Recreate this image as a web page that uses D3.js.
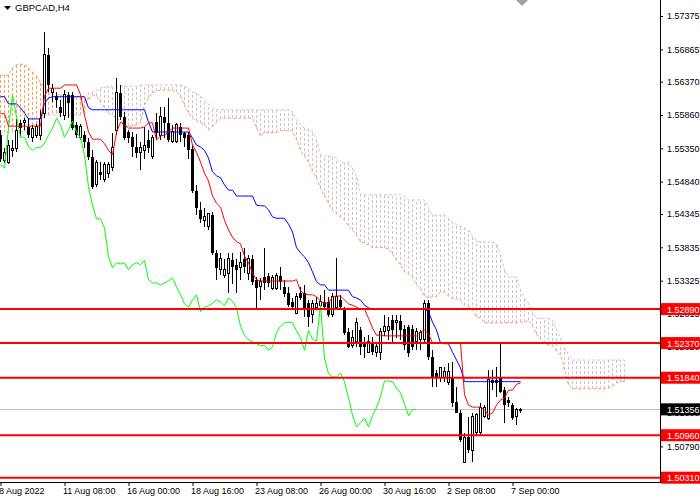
<!DOCTYPE html>
<html>
<head>
<meta charset="utf-8">
<script src="https://cdnjs.cloudflare.com/ajax/libs/d3/7.8.5/d3.min.js"></script>
<style>
body { margin: 0; background: #fff; }
svg { display: block; font-family: "Liberation Sans", Arial, sans-serif; }
</style>
</head>
<body>
<svg width="700" height="500"></svg>
<script>
// GBPCAD H4 candles, 8 Aug - 7 Sep 2022 (one value per 4h bar)
var opens = [1.5555,1.5517,1.5514,1.5532,1.5534,1.5574,1.5575,1.5568,1.5551,1.5555,
 1.5555,1.5589,1.5678,1.5621,1.5615,1.5598,1.5586,1.5617,1.5617,1.5571,
 1.5552,1.5555,1.5545,1.5522,1.5479,1.5499,1.5487,1.5497,1.5505,1.5563,
 1.5620,1.5583,1.5560,1.5552,1.5537,1.5529,1.5532,1.5548,1.5523,1.5575,
 1.5555,1.5583,1.5574,1.5545,1.5545,1.5568,1.5559,1.5555,1.5534,1.5470,
 1.5441,1.5424,1.5415,1.5433,1.5375,1.5350,1.5340,1.5344,1.5364,1.5357,
 1.5353,1.5366,1.5344,1.5366,1.5334,1.5323,1.5338,1.5340,1.5321,1.5321,
 1.5340,1.5323,1.5314,1.5300,1.5283,1.5314,1.5314,1.5298,1.5280,1.5292,
 1.5294,1.5300,1.5300,1.5280,1.5292,1.5303,1.5288,1.5254,1.5234,1.5239,
 1.5257,1.5239,1.5223,1.5237,1.5223,1.5223,1.5254,1.5257,1.5272,1.5268,
 1.5271,1.5259,1.5262,1.5259,1.5240,1.5243,1.5242,1.5298,1.5216,1.5191,
 1.5185,1.5184,1.5176,1.5184,1.5147,1.5130,1.5055,1.5093,1.5073,1.5100,
 1.5100,1.5124,1.5122,1.5181,1.5181,1.5184,1.5165,1.5150,1.5142,1.5124,
 1.5135];

var highs = [1.5563,1.5536,1.5548,1.5548,1.5580,1.5578,1.5581,1.5581,1.5571,1.5572,
 1.5594,1.5713,1.5689,1.5633,1.5621,1.5609,1.5624,1.5621,1.5621,1.5575,
 1.5572,1.5562,1.5551,1.5532,1.5517,1.5514,1.5514,1.5514,1.5559,1.5643,
 1.5632,1.5591,1.5563,1.5560,1.5557,1.5545,1.5568,1.5563,1.5555,1.5589,
 1.5598,1.5598,1.5612,1.5571,1.5574,1.5574,1.5560,1.5560,1.5540,1.5479,
 1.5453,1.5444,1.5435,1.5438,1.5379,1.5375,1.5366,1.5375,1.5375,1.5366,
 1.5376,1.5383,1.5372,1.5372,1.5338,1.5337,1.5383,1.5344,1.5341,1.5344,
 1.5353,1.5334,1.5323,1.5306,1.5314,1.5323,1.5326,1.5303,1.5303,1.5308,
 1.5311,1.5318,1.5308,1.5314,1.5367,1.5311,1.5292,1.5260,1.5257,1.5275,
 1.5262,1.5246,1.5249,1.5246,1.5239,1.5260,1.5280,1.5277,1.5280,1.5280,
 1.5280,1.5265,1.5265,1.5265,1.5260,1.5257,1.5303,1.5303,1.5226,1.5196,
 1.5200,1.5200,1.5207,1.5208,1.5170,1.5135,1.5100,1.5124,1.5130,1.5130,
 1.5145,1.5142,1.5196,1.5196,1.5200,1.5236,1.5170,1.5155,1.5145,1.5138,
 1.5138];

var lows = [1.5514,1.5513,1.5511,1.5522,1.5529,1.5552,1.5563,1.5551,1.5545,1.5551,
 1.5548,1.5581,1.5621,1.5606,1.5597,1.5583,1.5578,1.5581,1.5563,1.5551,
 1.5548,1.5536,1.5517,1.5473,1.5476,1.5487,1.5484,1.5490,1.5500,1.5555,
 1.5578,1.5548,1.5543,1.5522,1.5520,1.5502,1.5519,1.5528,1.5519,1.5548,
 1.5548,1.5551,1.5545,1.5543,1.5543,1.5545,1.5537,1.5519,1.5467,1.5433,
 1.5421,1.5415,1.5410,1.5372,1.5334,1.5341,1.5337,1.5314,1.5327,1.5314,
 1.5334,1.5344,1.5334,1.5326,1.5288,1.5303,1.5318,1.5323,1.5318,1.5318,
 1.5318,1.5308,1.5292,1.5288,1.5283,1.5303,1.5277,1.5262,1.5268,1.5288,
 1.5291,1.5288,1.5277,1.5277,1.5288,1.5288,1.5249,1.5230,1.5230,1.5231,
 1.5219,1.5214,1.5222,1.5219,1.5216,1.5211,1.5248,1.5242,1.5237,1.5245,
 1.5242,1.5226,1.5216,1.5226,1.5226,1.5226,1.5239,1.5211,1.5170,1.5170,
 1.5178,1.5178,1.5173,1.5139,1.5130,1.5086,1.5055,1.5069,1.5055,1.5096,
 1.5096,1.5122,1.5119,1.5165,1.5155,1.5161,1.5115,1.5139,1.5119,1.5112,
 1.5130];

var closes = [1.5519,1.5529,1.5540,1.5534,1.5563,1.5566,1.5577,1.5555,1.5566,1.5569,
 1.5581,1.5678,1.5632,1.5627,1.5609,1.5589,1.5618,1.5604,1.5566,1.5555,
 1.5568,1.5545,1.5522,1.5476,1.5513,1.5494,1.5510,1.5510,1.5537,1.5620,
 1.5583,1.5551,1.5551,1.5537,1.5528,1.5536,1.5539,1.5536,1.5552,1.5559,
 1.5583,1.5574,1.5548,1.5560,1.5571,1.5555,1.5551,1.5532,1.5470,1.5444,
 1.5427,1.5430,1.5435,1.5375,1.5352,1.5366,1.5350,1.5366,1.5353,1.5349,
 1.5360,1.5353,1.5366,1.5331,1.5321,1.5331,1.5329,1.5329,1.5337,1.5340,
 1.5331,1.5312,1.5295,1.5292,1.5308,1.5306,1.5288,1.5277,1.5298,1.5297,
 1.5300,1.5292,1.5280,1.5308,1.5308,1.5292,1.5253,1.5231,1.5245,1.5269,
 1.5231,1.5231,1.5239,1.5223,1.5231,1.5254,1.5263,1.5263,1.5257,1.5271,
 1.5257,1.5234,1.5222,1.5231,1.5254,1.5253,1.5298,1.5216,1.5185,1.5184,
 1.5199,1.5193,1.5193,1.5145,1.5130,1.5089,1.5093,1.5073,1.5124,1.5127,
 1.5139,1.5139,1.5181,1.5176,1.5176,1.5162,1.5142,1.5145,1.5122,1.5135,
 1.51356];

// Ichimoku lines
var tenkan = [1.5588,1.5588,1.5569,1.5569,1.5569,1.5569,1.5569,1.5569,1.5569,1.5569,
 1.5569,1.5615,1.5627,1.5627,1.5627,1.5627,1.5632,1.5632,1.5632,1.5632,
 1.5617,1.5586,1.5560,1.5549,1.5549,1.5549,1.5542,1.5532,1.5525,1.5559,
 1.5575,1.5571,1.5566,1.5566,1.5566,1.5566,1.5568,1.5574,1.5574,1.5548,
 1.5554,1.5555,1.5560,1.5566,1.5566,1.5566,1.5566,1.5566,1.5540,1.5529,
 1.5514,1.5497,1.5485,1.5462,1.5451,1.5445,1.5425,1.5410,1.5399,1.5392,
 1.5389,1.5370,1.5360,1.5344,1.5334,1.5332,1.5332,1.5332,1.5332,1.5332,
 1.5332,1.5332,1.5332,1.5332,1.5334,1.5317,1.5312,1.5311,1.5311,1.5308,
 1.5301,1.5298,1.5298,1.5308,1.5309,1.5309,1.5303,1.5297,1.5295,1.5292,
 1.5289,1.5289,1.5275,1.5260,1.5249,1.5249,1.5248,1.5248,1.5248,1.5248,
 1.5248,1.5248,1.5248,1.5248,1.5248,1.5254,1.5257,1.5251,1.5237,1.5237,
 1.5237,1.5237,1.5237,1.5237,1.5237,1.5237,1.5158,1.5142,1.5139,1.5139,
 1.5139,1.5135,1.5127,1.5130,1.5142,1.5150,1.5153,1.5165,1.5165,1.5174,
 1.5176];

var kijun = [1.5614,1.5614,1.5603,1.5603,1.5603,1.5597,1.5589,1.5580,1.5580,1.5580,
 1.5580,1.5604,1.5612,1.5614,1.5614,1.5614,1.5614,1.5614,1.5614,1.5614,
 1.5614,1.5614,1.5597,1.5594,1.5594,1.5594,1.5594,1.5594,1.5594,1.5594,
 1.5594,1.5594,1.5594,1.5594,1.5594,1.5594,1.5594,1.5575,1.5560,1.5560,
 1.5560,1.5560,1.5560,1.5560,1.5560,1.5560,1.5560,1.5560,1.5551,1.5540,
 1.5537,1.5532,1.5520,1.5499,1.5493,1.5490,1.5479,1.5471,1.5471,1.5462,
 1.5462,1.5462,1.5462,1.5462,1.5448,1.5447,1.5447,1.5441,1.5430,1.5428,
 1.5428,1.5428,1.5419,1.5407,1.5383,1.5375,1.5369,1.5360,1.5346,1.5331,
 1.5326,1.5326,1.5318,1.5318,1.5318,1.5318,1.5318,1.5318,1.5308,1.5306,
 1.5303,1.5295,1.5291,1.5289,1.5289,1.5289,1.5289,1.5289,1.5289,1.5289,
 1.5289,1.5289,1.5289,1.5289,1.5289,1.5289,1.5289,1.5285,1.5269,1.5257,
 1.5237,1.5236,1.5236,1.5223,1.5211,1.5199,1.5178,1.5178,1.5178,1.5178,
 1.5178,1.5178,1.5178,1.5178,1.5178,1.5178,1.5178,1.5178,1.5178,1.5178,
 1.5178];

var chikou = [1.5510,1.5505,1.5566,1.5617,1.5583,1.5552,1.5552,1.5537,1.5532,1.5536,
 1.5536,1.5543,1.5555,1.5566,1.5581,1.5571,1.5552,1.5563,1.5577,1.5560,
 1.5551,1.5525,1.5476,1.5448,1.5427,1.5427,1.5413,1.5369,1.5352,1.5360,
 1.5358,1.5360,1.5349,1.5357,1.5360,1.5357,1.5364,1.5334,1.5329,1.5329,
 1.5326,1.5329,1.5332,1.5337,1.5323,1.5311,1.5297,1.5292,1.5303,1.5311,
 1.5285,1.5292,1.5294,1.5298,1.5303,1.5300,1.5294,1.5306,1.5301,1.5291,
 1.5263,1.5249,1.5242,1.5239,1.5236,1.5233,1.5234,1.5226,1.5231,1.5253,
 1.5263,1.5268,1.5269,1.5268,1.5256,1.5245,1.5226,1.5256,1.5243,1.5240,
 1.5295,1.5214,1.5190,1.5185,1.5185,1.5191,1.5178,1.5153,1.5127,1.5109,
 1.5115,1.5122,1.5109,1.5126,1.5138,1.5155,1.5179,1.5179,1.5178,1.5168,
 1.5161,1.5144,1.5126,1.5135,1.51356];

var spanA = [1.5647,1.5647,1.5647,1.5658,1.5663,1.5664,1.5663,1.5658,1.5652,1.5646,
 1.5635,1.5627,1.5621,1.5617,1.5617,1.5617,1.5614,1.5614,1.5614,1.5614,
 1.5614,1.5609,1.5609,1.5617,1.5615,1.5606,1.5597,1.5589,1.5586,1.5581,
 1.5578,1.5572,1.5569,1.5569,1.5571,1.5575,1.5601,1.5612,1.5620,1.5623,
 1.5624,1.5624,1.5624,1.5624,1.5621,1.5614,1.5601,1.5589,1.5581,1.5577,
 1.5574,1.5571,1.5563,1.5568,1.5575,1.5580,1.5581,1.5581,1.5581,1.5581,
 1.5581,1.5581,1.5581,1.5581,1.5566,1.5554,1.5559,1.5559,1.5559,1.5559,
 1.5562,1.5562,1.5562,1.5562,1.5548,1.5532,1.5523,1.5514,1.5500,1.5490,
 1.5474,1.5462,1.5451,1.5441,1.5435,1.5430,1.5425,1.5416,1.5410,1.5402,
 1.5392,1.5390,1.5387,1.5383,1.5383,1.5383,1.5383,1.5381,1.5373,1.5364,
 1.5357,1.5346,1.5343,1.5338,1.5326,1.5320,1.5309,1.5306,1.5308,1.5308,
 1.5315,1.5315,1.5309,1.5305,1.5305,1.5303,1.5295,1.5292,1.5288,1.5277,
 1.5275,1.5268,1.5268,1.5268,1.5268,1.5268,1.5268,1.5268,1.5268,1.5268,
 1.5269,1.5269,1.5272,1.5263,1.5251,1.5243,1.5237,1.5234,1.5233,1.5225,
 1.5219,1.5196,1.5173,1.5167,1.5167,1.5167,1.5167,1.5167,1.5167,1.5167,
 1.5167,1.5167,1.5168,1.5171,1.5176,1.5178,1.5178];

var spanB = [1.5560,1.5560,1.5560,1.5560,1.5560,1.5560,1.5560,1.5560,1.5563,1.5569,
 1.5578,1.5586,1.5586,1.5586,1.5586,1.5586,1.5586,1.5586,1.5586,1.5586,
 1.5586,1.5591,1.5620,1.5621,1.5624,1.5627,1.5629,1.5629,1.5629,1.5630,
 1.5630,1.5630,1.5630,1.5630,1.5630,1.5632,1.5632,1.5632,1.5632,1.5632,
 1.5632,1.5632,1.5632,1.5632,1.5632,1.5632,1.5630,1.5627,1.5621,1.5620,
 1.5615,1.5609,1.5603,1.5597,1.5594,1.5594,1.5594,1.5594,1.5594,1.5594,
 1.5594,1.5594,1.5594,1.5594,1.5594,1.5594,1.5594,1.5594,1.5594,1.5594,
 1.5594,1.5594,1.5594,1.5591,1.5578,1.5571,1.5566,1.5563,1.5562,1.5548,
 1.5525,1.5523,1.5523,1.5523,1.5520,1.5514,1.5513,1.5513,1.5505,1.5493,
 1.5464,1.5464,1.5464,1.5464,1.5464,1.5464,1.5464,1.5464,1.5464,1.5464,
 1.5464,1.5461,1.5456,1.5456,1.5456,1.5456,1.5456,1.5444,1.5433,1.5433,
 1.5433,1.5433,1.5428,1.5421,1.5419,1.5416,1.5413,1.5410,1.5401,1.5393,
 1.5392,1.5392,1.5392,1.5392,1.5389,1.5372,1.5349,1.5338,1.5338,1.5338,
 1.5318,1.5306,1.5298,1.5285,1.5275,1.5275,1.5275,1.5275,1.5272,1.5257,
 1.5245,1.5230,1.5219,1.5211,1.5211,1.5211,1.5211,1.5211,1.5211,1.5211,
 1.5211,1.5211,1.5211,1.5211,1.5211,1.5211,1.5211];

var levels = [1.52890, 1.52370, 1.51840, 1.50960, 1.50310];
var bid = 1.51356;

var priceTicks = [1.57375,1.56865,1.56370,1.55860,1.55350,1.54840,1.54345,
  1.53835,1.53325,1.52815,1.52320,1.51810,1.51300,1.50790];
var dateTicks = [0, 16, 32, 48, 64, 80, 96, 112, 128];
var dateLabels = ['8 Aug 2022','11 Aug 08:00','16 Aug 00:00','18 Aug 16:00',
  '23 Aug 08:00','26 Aug 00:00','30 Aug 16:00','2 Sep 08:00','7 Sep 00:00'];

// **** scales ****
var xScale = d3.scaleLinear().domain([0, 156]).range([0.5, 624.5]);
var yScale = d3.scaleLinear().domain([1.50310, 1.57375]).range([477.7, 16]);

var svg = d3.select('svg');
var plot = svg.append('g');

// cloud: vertical dotted bars between span A and span B
plot.append('g').selectAll('line')
    .data(spanA)
    .enter()
    .append('line')
    .attr('x1', function(d, i){ return xScale(i); })
    .attr('x2', function(d, i){ return xScale(i); })
    .attr('y1', function(d){ return yScale(d); })
    .attr('y2', function(d, i){ return yScale(spanB[i]); })
    .attr('stroke', function(d, i){ return d > spanB[i] ? '#F4A460' : '#D8BFD8'; })
    .attr('stroke-dasharray', '3,2')
    .attr('shape-rendering', 'crispEdges');

var line = d3.line()
    .x(function(d, i){ return xScale(i); })
    .y(function(d){ return yScale(d); });

plot.append('path').datum(spanA)
    .attr('d', line).attr('fill', 'none')
    .attr('stroke', '#F4A460').attr('stroke-dasharray', '3,2');
plot.append('path').datum(spanB)
    .attr('d', line).attr('fill', 'none')
    .attr('stroke', '#D8BFD8').attr('stroke-dasharray', '3,2');

// bid line
plot.append('line')
    .attr('x1', 0).attr('x2', 660)
    .attr('y1', yScale(bid)).attr('y2', yScale(bid))
    .attr('stroke', '#C0C0C0')
    .attr('shape-rendering', 'crispEdges');

// candles
var candle = plot.append('g').attr('shape-rendering', 'crispEdges')
    .selectAll('g')
    .data(closes)
    .enter()
    .append('g');

candle.append('line')
    .attr('x1', function(d, i){ return xScale(i); })
    .attr('x2', function(d, i){ return xScale(i); })
    .attr('y1', function(d, i){ return yScale(highs[i]); })
    .attr('y2', function(d, i){ return yScale(lows[i]); })
    .attr('stroke', 'black');

candle.append('rect')
    .attr('x', function(d, i){ return d >= opens[i] ? xScale(i) - 1 : xScale(i) - 1.5; })
    .attr('width', function(d, i){ return d >= opens[i] ? 2 : 3; })
    .attr('y', function(d, i){ return yScale(Math.max(d, opens[i])); })
    .attr('height', function(d, i){
        return Math.max(1, Math.abs(yScale(d) - yScale(opens[i])));
    })
    .style('fill', function(d, i){
        if(d >= opens[i]) {
            return 'white';
        } else {
            return 'black';
        }
    })
    .attr('stroke', function(d, i){ return d >= opens[i] ? 'black' : 'none'; });

// tenkan, kijun, chikou
plot.append('path').datum(chikou)
    .attr('d', line).attr('fill', 'none').attr('stroke', '#00FF00');
plot.append('path').datum(kijun)
    .attr('d', line).attr('fill', 'none').attr('stroke', '#0000FF');
plot.append('path').datum(tenkan)
    .attr('d', line).attr('fill', 'none').attr('stroke', '#FF0000');

// horizontal levels
plot.append('g').selectAll('line')
    .data(levels)
    .enter()
    .append('line')
    .attr('x1', 0).attr('x2', 660)
    .attr('y1', function(d){ return yScale(d); })
    .attr('y2', function(d){ return yScale(d); })
    .attr('stroke', '#FF0000')
    .attr('stroke-width', 2);

// **** axes ****
var yAxis = svg.append('g')
    .attr('transform', 'translate(660,0)')
    .call(d3.axisRight(yScale).tickValues(priceTicks).tickSize(3).tickPadding(4)
        .tickFormat(d3.format('.5f')));
yAxis.select('.domain').remove();
yAxis.selectAll('text').attr('font-size', 9).attr('font-family', 'Liberation Sans, Arial, sans-serif');

var xAxis = svg.append('g')
    .attr('transform', 'translate(0,482)')
    .call(d3.axisBottom(xScale).tickValues(dateTicks).tickSize(4).tickPadding(2)
        .tickFormat(function(d, i){ return dateLabels[i]; }));
xAxis.select('.domain').remove();
xAxis.selectAll('text')
    .attr('text-anchor', 'start')
    .attr('dx', -2)
    .attr('font-size', 9)
    .attr('font-family', 'Liberation Sans, Arial, sans-serif');

svg.append('line').attr('x1', 660.5).attr('x2', 660.5).attr('y1', 0).attr('y2', 482.5)
    .attr('stroke', 'black');
svg.append('line').attr('x1', 0).attr('x2', 661).attr('y1', 482.5).attr('y2', 482.5)
    .attr('stroke', 'black');

// price tags on the axis
var tags = levels.map(function(v){ return { v: v, c: '#FF0000' }; });
tags.push({ v: bid, c: 'black' });
var tag = svg.append('g').selectAll('g')
    .data(tags)
    .enter()
    .append('g')
    .attr('transform', function(d){ return 'translate(661,' + yScale(d.v) + ')'; });
tag.append('rect')
    .attr('x', 0).attr('y', -6).attr('width', 39).attr('height', 12)
    .style('fill', function(d){ return d.c; });
tag.append('text')
    .attr('x', 6).attr('y', 3.5)
    .attr('font-size', 9)
    .style('fill', 'white')
    .text(function(d){ return d3.format('.5f')(d.v); });

// title and chart shift marker
svg.append('path').attr('d', 'M4,6 L11,6 L7.5,10 Z').style('fill', 'black');
svg.append('text')
    .attr('x', 15).attr('y', 11)
    .attr('font-size', 9.5)
    .text('GBPCAD,H4');
svg.append('path').attr('d', 'M516,0 L528,0 L522,6 Z').style('fill', '#A0A0A0');
</script>
</body>
</html>
